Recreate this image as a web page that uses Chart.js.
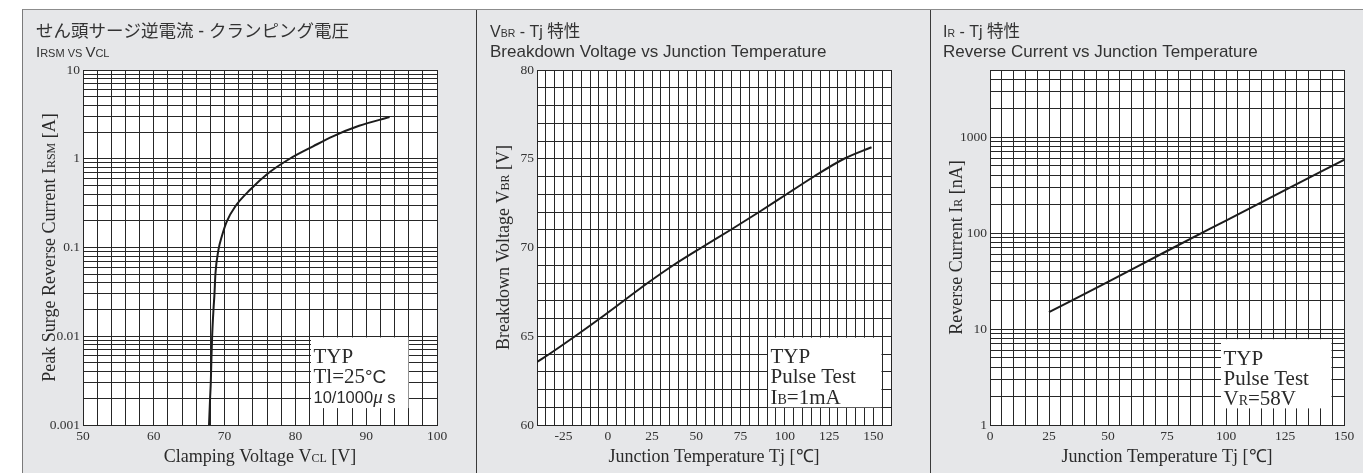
<!DOCTYPE html>
<html><head><meta charset="utf-8">
<script src="https://cdn.jsdelivr.net/npm/chart.js@4.4.1/dist/chart.umd.min.js"></script>
<style>
html,body{margin:0;padding:0;background:#fff;width:1363px;height:473px;overflow:hidden;position:relative}
#frame{position:absolute;left:22px;top:9px;width:1341px;height:464px;background:#e6e7e9;border-top:1px solid #8c8c8c;border-left:1px solid #7a7a7a;box-sizing:border-box}
.sep{position:absolute;top:10px;width:1px;height:463px;background:#3a3a3a}
canvas{position:absolute;top:10px}
</style></head><body>
<div id="frame"></div>
<div class="sep" style="left:476px"></div>
<div class="sep" style="left:930px"></div>
<canvas id="c1" width="453" height="463" style="left:23px"></canvas>
<canvas id="c2" width="453" height="463" style="left:477px"></canvas>
<canvas id="c3" width="432" height="463" style="left:931px"></canvas>
<script>
// ---- data ----
// Panel 1: Peak surge reverse current vs clamping voltage
const vcl  = [67.8, 67.95, 68.05, 68.15, 68.24, 68.43, 68.57, 68.7, 69.13, 69.6, 70.3, 71.5, 73.6, 76.2, 79.2, 82.5, 85.3, 89.0, 93.3];
const irsm = [0.001, 0.002, 0.003, 0.006, 0.01, 0.02, 0.03, 0.05, 0.094, 0.133, 0.196, 0.29, 0.447, 0.69, 1.0, 1.38, 1.79, 2.35, 2.95];
// Panel 2: Breakdown voltage vs junction temperature
const tjBr = [-40, -33, -18.5, -4.5, 9, 22.5, 37, 53, 69.5, 85.5, 101, 116.5, 133.5, 149];
const vbr  = [63.55, 64, 65, 66, 67, 68, 69, 70, 71, 72, 73, 74, 75, 75.65];
// Panel 3: Reverse current vs junction temperature
const tjIr = [25, 50, 75, 100, 125, 150];
const ir   = [15, 31, 65, 135, 280, 580];

// tick labels
const xLabels1 = [50, 60, 70, 80, 90, 100];
const yLabels1 = ['0.001', '0.01', '0.1', '1', '10'];
const xLabels2 = [-25, 0, 25, 50, 75, 100, 125, 150];
const yLabels2 = [60, 65, 70, 75, 80];
const xLabels3 = [0, 25, 50, 75, 100, 125, 150];
const yLabels3 = ['1', '10', '100', '1000'];

// ---- styling ----
const GRID = '#262626';
const SERIF = '"Liberation Serif", serif';
const SANS = '"Liberation Sans", sans-serif';
const CJK = '"Liberation Sans", "Noto Sans CJK JP", sans-serif';
const TXT = '#2a2a2a';

function logTicks(minExp, maxVal) {
  const t = [];
  for (let e = minExp; e < 6; e++) {
    for (let m = 1; m < 10; m++) {
      const v = +(m * Math.pow(10, e)).toPrecision(6);
      if (v > maxVal * 1.0001) return t;
      t.push({value: v});
    }
  }
  return t;
}

function drawRich(ctx, segs, x, y, align, rot) {
  ctx.save();
  ctx.translate(x, y);
  if (rot) ctx.rotate(rot);
  ctx.textBaseline = 'alphabetic';
  ctx.textAlign = 'left';
  let w = 0;
  segs.forEach(s => { ctx.font = s[1]; w += ctx.measureText(s[0]).width; });
  let cx = align === 'center' ? -w / 2 : 0;
  segs.forEach(s => {
    ctx.font = s[1];
    ctx.fillStyle = s[2] || TXT;
    ctx.fillText(s[0], cx, 0);
    cx += ctx.measureText(s[0]).width;
  });
  ctx.restore();
}

const decoCfg = {
  c1: {
    title1: [['せん頭サージ逆電流 - クランピング電圧', '17.5px ' + CJK, '#333']],
    title2: [['I', '15px ' + SANS, '#333'], ['RSM VS ', '11px ' + SANS, '#333'], ['V', '15px ' + SANS, '#333'], ['CL', '11px ' + SANS, '#333']],
    xTitle: [['Clamping Voltage V', '18px ' + SERIF], ['CL', '12px ' + SERIF], [' [V]', '18px ' + SERIF]],
    yTitle: [['Peak Surge Reverse Current I', '18px ' + SERIF], ['RSM', '12px ' + SERIF], [' [A]', '18px ' + SERIF]],
    note: {x1: 82, x2: 96, y1: 0.0097, y2: 0.00155, leftIsGrid: true,
      lines: [
        [['TYP', '21px ' + SERIF]],
        [['Tl=25', '21px ' + SERIF], ['°C', '19px ' + SANS]],
        [['10/1000', '16.5px ' + SANS], ['\u03bc', 'italic 19px ' + SERIF], [' s', '16.5px ' + SANS]]
      ]}
  },
  c2: {
    title1: [['V', '16px ' + SANS, '#333'], ['BR', '10.5px ' + SANS, '#333'], [' - Tj ', '16px ' + SANS, '#333'], ['特性', '16.5px "Noto Sans CJK JP"', '#333']],
    title2: [['Breakdown Voltage vs Junction Temperature', '17px ' + SANS, '#333']],
    xTitle: [['Junction Temperature Tj [\u2103]', '18px ' + SERIF]],
    yTitle: [['Breakdown Voltage V', '18px ' + SERIF], ['BR', '12px ' + SERIF], [' [V]', '18px ' + SERIF]],
    note: {x1: 90, x2: 155, y1: 64.92, y2: 61.0, leftIsGrid: true,
      lines: [
        [['TYP', '21px ' + SERIF]],
        [['Pulse Test', '21px ' + SERIF]],
        [['I', '21px ' + SERIF], ['B', '14px ' + SERIF], ['=1mA', '21px ' + SERIF]]
      ]}
  },
  c3: {
    title1: [['I', '16px ' + SANS, '#333'], ['R', '10.5px ' + SANS, '#333'], [' - Tj ', '16px ' + SANS, '#333'], ['特性', '16.5px "Noto Sans CJK JP"', '#333']],
    title2: [['Reverse Current vs Junction Temperature', '17px ' + SANS, '#333']],
    xTitle: [['Junction Temperature Tj [\u2103]', '18px ' + SERIF]],
    yTitle: [['Reverse Current I', '18px ' + SERIF], ['R', '12px ' + SERIF], [' [nA]', '18px ' + SERIF]],
    note: {x1: 98, x2: 145, y1: 7.83, y2: 1.49, leftIsGrid: false,
      lines: [
        [['TYP', '21px ' + SERIF]],
        [['Pulse Test', '21px ' + SERIF]],
        [['V', '21px ' + SERIF], ['R', '14px ' + SERIF], ['=58V', '21px ' + SERIF]]
      ]}
  }
};

const deco = {
  id: 'deco',
  beforeDraw(chart) {
    const {ctx, chartArea: a} = chart;
    ctx.save();
    ctx.fillStyle = '#fff';
    ctx.fillRect(a.left, a.top, a.right - a.left, a.bottom - a.top);
    ctx.restore();
  },
  beforeDatasetsDraw(chart) {
    const c = decoCfg[chart.canvas.id];
    const {ctx} = chart;
    const xs = chart.scales.x, ys = chart.scales.y;
    const n = c.note;
    const l = Math.round(xs.getPixelForValue(n.x1)) + (n.leftIsGrid ? 1 : 0);
    const r = Math.round(xs.getPixelForValue(n.x2)) - 1;
    const t = ys.getPixelForValue(n.y1);
    const b = ys.getPixelForValue(n.y2);
    ctx.save();
    ctx.fillStyle = '#fff';
    ctx.fillRect(l, t, r - l + 0.5, b - t);
    ctx.restore();
    n.lines.forEach((ln, i) => drawRich(ctx, ln, l + 2.5, t + 25.6 + i * 20.2, 'left'));
  },
  afterDraw(chart) {
    const c = decoCfg[chart.canvas.id];
    const {ctx, chartArea: a} = chart;
    drawRich(ctx, c.title1, a.left - 47, a.top - 33.3, 'left');
    drawRich(ctx, c.title2, a.left - 47, a.top - 13.4, 'left');
    drawRich(ctx, c.xTitle, (a.left + a.right) / 2, a.bottom + 36.7, 'center');
    drawRich(ctx, c.yTitle, a.left - 28.5, (a.top + a.bottom) / 2, 'center', -Math.PI / 2);
  }
};

const tickFont = {family: SERIF, size: 13.5};

function makeChart(id, xs, ys, padR, yWidth, xScale, yScale) {
  return new Chart(document.getElementById(id), {
    type: 'line',
    data: {datasets: [{
      data: xs.map((v, i) => ({x: v, y: ys[i]})),
      borderColor: '#1c1c1c', borderWidth: 2, pointRadius: 0,
      cubicInterpolationMode: 'monotone', fill: false
    }]},
    options: {
      responsive: false, animation: false, devicePixelRatio: 1, events: [],
      layout: {padding: {left: 0, top: 60, right: padR, bottom: 0}},
      plugins: {legend: {display: false}, tooltip: {enabled: false}},
      scales: {
        x: Object.assign({
          type: 'linear',
          grid: {color: GRID, lineWidth: 1, drawTicks: false},
          border: {color: GRID, width: 1},
          afterFit: s => { s.height = 48; }
        }, xScale),
        y: Object.assign({
          grid: {color: GRID, lineWidth: 1, drawTicks: false},
          border: {color: GRID, width: 1},
          afterFit: s => { s.width = yWidth; }
        }, yScale)
      }
    },
    plugins: [deco]
  });
}

function logLabel(list) {
  return v => {
    const s = list.find(l => Math.abs(parseFloat(l) / v - 1) < 1e-6);
    return s === undefined ? '' : s;
  };
}

makeChart('c1', vcl, irsm, 39, 60,
  {min: 50, max: 100, ticks: {stepSize: 2, autoSkip: false, maxRotation: 0, padding: 3, color: '#333', font: tickFont,
    callback: v => xLabels1.includes(v) ? String(v) : ''}},
  {type: 'logarithmic', min: 0.001, max: 10,
    afterBuildTicks: s => { s.ticks = logTicks(-3, 10); },
    ticks: {autoSkip: false, padding: 3, color: '#333', font: tickFont, callback: logLabel(yLabels1)}});

makeChart('c2', tjBr, vbr, 39, 60,
  {min: -40, max: 160, ticks: {stepSize: 5, autoSkip: false, maxRotation: 0, padding: 3, color: '#333', font: tickFont,
    callback: v => xLabels2.includes(v) ? String(v) : ''}},
  {type: 'linear', min: 60, max: 80,
    ticks: {stepSize: 1, autoSkip: false, padding: 3, color: '#333', font: tickFont,
      callback: v => yLabels2.includes(v) ? String(v) : ''}});

makeChart('c3', tjIr, ir, 19, 59,
  {min: 0, max: 150, ticks: {stepSize: 5, autoSkip: false, maxRotation: 0, padding: 3, color: '#333', font: tickFont,
    callback: v => xLabels3.includes(v) ? String(v) : ''}},
  {type: 'logarithmic', min: 1, max: 5000,
    afterBuildTicks: s => { s.ticks = logTicks(0, 5000); },
    ticks: {autoSkip: false, padding: 3, color: '#333', font: tickFont, callback: logLabel(yLabels3)}});
</script>
</body></html>
